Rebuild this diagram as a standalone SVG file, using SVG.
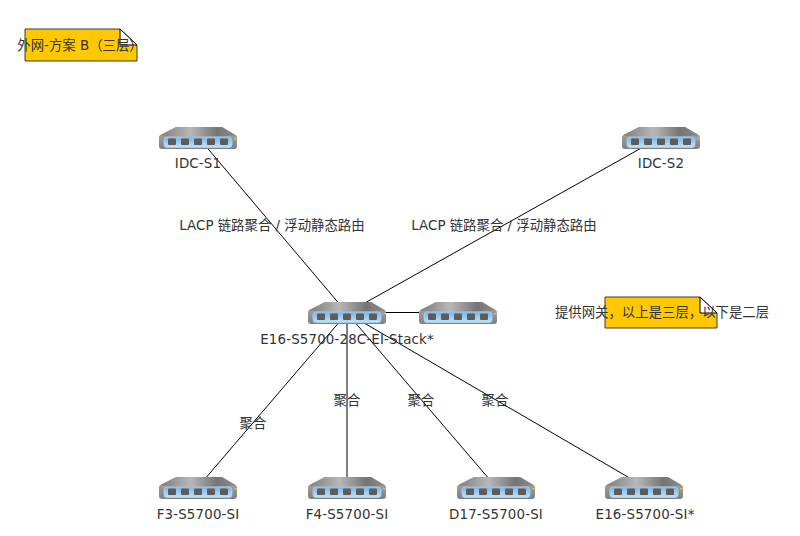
<svg xmlns="http://www.w3.org/2000/svg" width="800" height="536" viewBox="0 0 800 536">
<style>
text{font-family:"DejaVu Sans","Noto Sans CJK SC",sans-serif;font-size:13.4px;fill:#333;text-anchor:middle}
.name{letter-spacing:.16px}
.edge{stroke:#000;stroke-width:1;fill:none}
.note{fill:#ffc800;stroke:#3a3a3a;stroke-width:1}
.fold{fill:#fff;stroke:#000;stroke-width:1}
</style>
<defs>
<linearGradient id="top" x1="0" x2="1" y1="0" y2="0"><stop offset="0" stop-color="#7c7c7c"/><stop offset=".4" stop-color="#b8b8b8"/><stop offset=".75" stop-color="#757575"/><stop offset="1" stop-color="#8c8c8c"/></linearGradient>
<linearGradient id="front" x1="0" x2="0" y1="0" y2="1"><stop offset="0" stop-color="#b0b0b0"/><stop offset="1" stop-color="#808080"/></linearGradient>
<linearGradient id="panel" x1="0" x2="0" y1="0" y2="1"><stop offset="0" stop-color="#7ab2e4"/><stop offset="1" stop-color="#c2e2f8"/></linearGradient>
<symbol id="sw" width="80" height="24" viewBox="0 0 80 24" overflow="visible">
<path d="M0 11 Q0 9.500 2 8.500 L17 1 H63 L76 8.500 Q78 9.500 78 11 V20 Q78 23 75 23 H3 Q0 23 0 20Z" fill="url(#front)"/>
<path d="M1 9.500 L17 1 H63 L77 9.500 Q39 12 1 9.500Z" fill="url(#top)"/>
<rect x="5" y="11" width="68" height="10.500" rx="3" fill="url(#panel)" stroke="#a5d4f4" stroke-width=".8"/>
<g fill="#5c5c5c"><rect x="9" y="12.500" width="8" height="6.500" rx="1"/><rect x="22" y="12.500" width="8" height="6.500" rx="1"/><rect x="35" y="12.500" width="8" height="6.500" rx="1"/><rect x="48" y="12.500" width="8" height="6.500" rx="1"/><rect x="61" y="12.500" width="8" height="6.500" rx="1"/></g>
<rect x="75" y="12" width="3" height="1.500" fill="#b5d334"/>
</symbol>
</defs>
<g id="connectors" class="edge">
<line x1="198" y1="137" x2="347" y2="313"/>
<line x1="661" y1="137" x2="347" y2="313"/>
<line x1="347" y1="312.500" x2="458" y2="312.500"/>
<line x1="347" y1="313" x2="198" y2="487"/>
<line x1="347" y1="313" x2="347" y2="487"/>
<line x1="347" y1="313" x2="496" y2="487"/>
<line x1="347" y1="313" x2="645" y2="487"/>
</g>
<g id="edge-labels">
<text x="272" y="230">LACP 链路聚合 / 浮动静态路由</text>
<text x="504" y="230">LACP 链路聚合 / 浮动静态路由</text>
<text x="253" y="428">聚合</text>
<text x="347" y="405">聚合</text>
<text x="421" y="405">聚合</text>
<text x="495" y="405">聚合</text>
</g>
<g id="idc-s1"><use href="#sw" x="159" y="126" width="80" height="24"/><text class="name" x="198" y="168">IDC-S1</text></g>
<g id="idc-s2"><use href="#sw" x="622" y="126" width="80" height="24"/><text class="name" x="661" y="168">IDC-S2</text></g>
<g id="core"><use href="#sw" x="308" y="301" width="80" height="24"/><text class="name" x="347" y="344">E16-S5700-28C-EI-Stack*</text></g>
<g id="core-peer"><use href="#sw" x="419" y="301" width="80" height="24"/></g>
<g id="f3"><use href="#sw" x="159" y="476" width="80" height="24"/><text class="name" x="198" y="519">F3-S5700-SI</text></g>
<g id="f4"><use href="#sw" x="308" y="476" width="80" height="24"/><text class="name" x="347" y="519">F4-S5700-SI</text></g>
<g id="d17"><use href="#sw" x="457" y="476" width="80" height="24"/><text class="name" x="496" y="519">D17-S5700-SI</text></g>
<g id="e16"><use href="#sw" x="605" y="476" width="80" height="24"/><text class="name" x="645" y="519">E16-S5700-SI*</text></g>
<g id="note-title">
<path class="note" d="M25 29 H120 L137 45 V61 H25Z"/>
<path class="fold" d="M120 29 L137 45 H120Z"/>
<text x="80" y="50">外网-方案 B（三层）</text>
</g>
<g id="note-gateway">
<path class="note" d="M605 297 H700 L717 313 V328 H605Z"/>
<path class="fold" d="M700 297 L717 313 H700Z"/>
<text x="662" y="317">提供网关，以上是三层，以下是二层</text>
</g>
</svg>
